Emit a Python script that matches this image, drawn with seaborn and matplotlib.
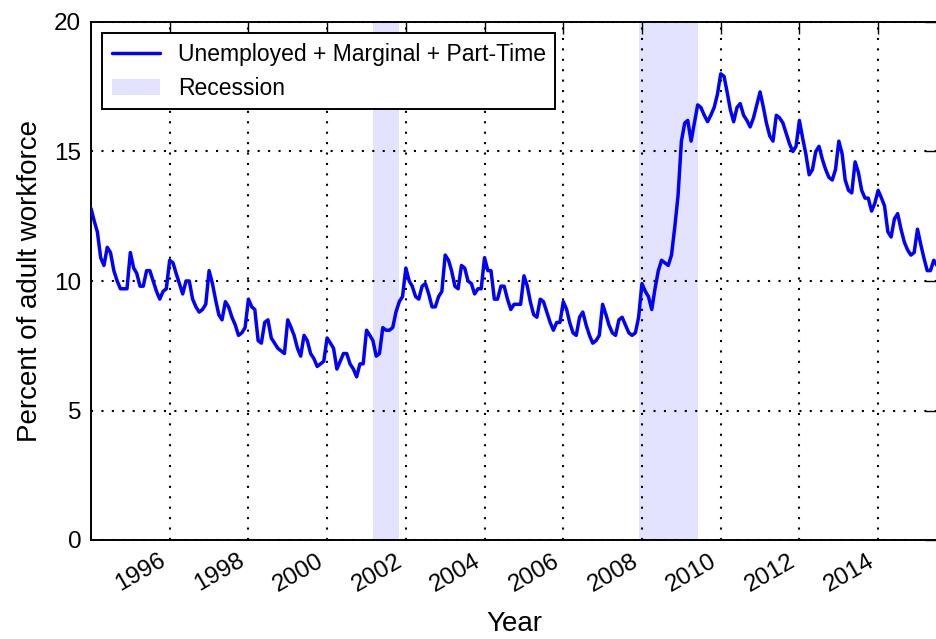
"""
U-6 style underemployment rate (not seasonally adjusted), monthly 1994-2015,
with recession periods shaded.
"""

import matplotlib
matplotlib.use('Agg')
import matplotlib.pyplot as plt
import matplotlib.dates as mdates
import seaborn as sns
import numpy as np
import pandas as pd

# Monthly values, Jan 1994 .. Jul 2015
rate_1994 = [12.8, 12.3, 11.9, 10.9, 10.6, 11.3, 11.1, 10.4, 10.0, 9.7, 9.7, 9.7]
rate_1995 = [11.1, 10.5, 10.3, 9.8, 9.8, 10.4, 10.4, 10.0, 9.6, 9.3, 9.6, 9.7]
rate_1996 = [10.8, 10.7, 10.3, 9.9, 9.5, 10.0, 10.0, 9.3, 9.0, 8.8, 8.9, 9.1]
rate_1997 = [10.4, 9.9, 9.3, 8.7, 8.5, 9.2, 9.0, 8.6, 8.3, 7.9, 8.0, 8.2]
rate_1998 = [9.3, 9.0, 8.9, 7.7, 7.6, 8.4, 8.5, 7.8, 7.6, 7.4, 7.3, 7.2]
rate_1999 = [8.5, 8.2, 7.9, 7.4, 7.1, 7.9, 7.7, 7.2, 7.0, 6.7, 6.8, 6.9]
rate_2000 = [7.8, 7.6, 7.4, 6.6, 6.9, 7.2, 7.2, 6.8, 6.6, 6.3, 6.8, 6.8]
rate_2001 = [8.1, 7.9, 7.7, 7.1, 7.2, 8.2, 8.1, 8.1, 8.2, 8.8, 9.2, 9.4]
rate_2002 = [10.5, 10.0, 9.8, 9.4, 9.3, 9.8, 9.9, 9.5, 9.0, 9.0, 9.4, 9.6]
rate_2003 = [11.0, 10.8, 10.4, 9.8, 9.7, 10.6, 10.5, 10.0, 9.9, 9.5, 9.7, 9.7]
rate_2004 = [10.9, 10.4, 10.4, 9.3, 9.3, 9.8, 9.8, 9.3, 8.9, 9.1, 9.1, 9.1]
rate_2005 = [10.2, 9.8, 9.2, 8.7, 8.6, 9.3, 9.2, 8.8, 8.4, 8.1, 8.4, 8.4]
rate_2006 = [9.2, 8.9, 8.4, 8.0, 7.9, 8.6, 8.8, 8.3, 7.9, 7.6, 7.7, 7.9]
rate_2007 = [9.1, 8.7, 8.3, 8.0, 7.9, 8.5, 8.6, 8.3, 8.0, 7.9, 8.0, 8.6]
rate_2008 = [9.9, 9.6, 9.4, 8.9, 9.7, 10.4, 10.8, 10.7, 10.6, 11.0, 12.1, 13.3]
rate_2009 = [15.4, 16.1, 16.2, 15.4, 16.1, 16.8, 16.7, 16.4, 16.15, 16.4, 16.7, 17.2]
rate_2010 = [18.0, 17.9, 17.3, 16.6, 16.15, 16.7, 16.85, 16.4, 16.2, 15.95, 16.3, 16.8]
rate_2011 = [17.3, 16.7, 16.1, 15.6, 15.4, 16.4, 16.3, 16.1, 15.7, 15.3, 15.0, 15.2]
rate_2012 = [16.2, 15.5, 14.9, 14.1, 14.3, 15.0, 15.2, 14.7, 14.3, 14.0, 13.9, 14.3]
rate_2013 = [15.4, 14.9, 13.9, 13.5, 13.4, 14.6, 14.2, 13.5, 13.2, 13.2, 12.7, 13.0]
rate_2014 = [13.5, 13.2, 12.9, 11.9, 11.7, 12.4, 12.6, 12.0, 11.5, 11.2, 11.0, 11.1]
rate_2015 = [12.0, 11.4, 10.9, 10.4, 10.4, 10.8, 10.6]

recession_starts = ['2001-03-01', '2007-12-01']
recession_ends = ['2001-11-01', '2009-06-01']

tick_years = [1996, 1998, 2000, 2002, 2004, 2006, 2008, 2010, 2012, 2014]

series_label = 'Unemployed + Marginal + Part-Time'
recession_label = 'Recession'

values = (rate_1994 + rate_1995 + rate_1996 + rate_1997 + rate_1998 + rate_1999
          + rate_2000 + rate_2001 + rate_2002 + rate_2003 + rate_2004 + rate_2005
          + rate_2006 + rate_2007 + rate_2008 + rate_2009 + rate_2010 + rate_2011
          + rate_2012 + rate_2013 + rate_2014 + rate_2015)
df = pd.DataFrame({
    'date': pd.date_range('1994-01-01', periods=len(values), freq='MS'),
    'rate': values,
})

sns.set_style('white')
plt.rcParams['font.family'] = ['Liberation Sans', 'DejaVu Sans']
plt.rcParams['text.color'] = 'black'
plt.rcParams['axes.labelcolor'] = 'black'

fig = plt.figure(figsize=(9.37, 6.39), dpi=100)
ax = fig.add_axes([91 / 937, 99 / 639, 846 / 937, 518 / 639])

# recession shading
for i, (s, e) in enumerate(zip(recession_starts, recession_ends)):
    ax.axvspan(pd.Timestamp(s), pd.Timestamp(e), color='blue', alpha=0.11,
               lw=0, label=recession_label if i == 0 else None, zorder=0)

sns.lineplot(data=df, x='date', y='rate', ax=ax, color='blue', lw=2.5,
             label=series_label, zorder=3)

ax.set_xlim(df['date'].iloc[0], df['date'].iloc[-1])
ax.set_ylim(0, 20)
ax.set_yticks([0, 5, 10, 15, 20])

ax.set_xticks(pd.to_datetime([f'{y}-01-01' for y in tick_years]))
ax.xaxis.set_major_formatter(mdates.DateFormatter('%Y'))
plt.setp(ax.get_xticklabels(), rotation=30, ha='right')

ax.tick_params(direction='in', length=8.5, width=1, top=True, right=True,
               labelsize=17.5, pad=7, colors='black')
for sp in ax.spines.values():
    sp.set_color('black')
    sp.set_linewidth(1.4)

ax.grid(True, linestyle=(0, (1, 4)), color='black', linewidth=1.5)
ax.set_axisbelow(False)

ax.set_xlabel('Year', fontsize=20, labelpad=11)
ax.set_ylabel('Percent of adult workforce', fontsize=20, labelpad=8)

handles, labels = ax.get_legend_handles_labels()
order = [labels.index(series_label), labels.index(recession_label)]
leg = ax.legend([handles[i] for i in order], [labels[i] for i in order],
                loc='upper left', fontsize=16.5, fancybox=False, framealpha=1,
                edgecolor='black', borderaxespad=0.5, handlelength=2.1)
leg.get_frame().set_linewidth(1.4)

fig.savefig('out.png', dpi=100, facecolor='white')
